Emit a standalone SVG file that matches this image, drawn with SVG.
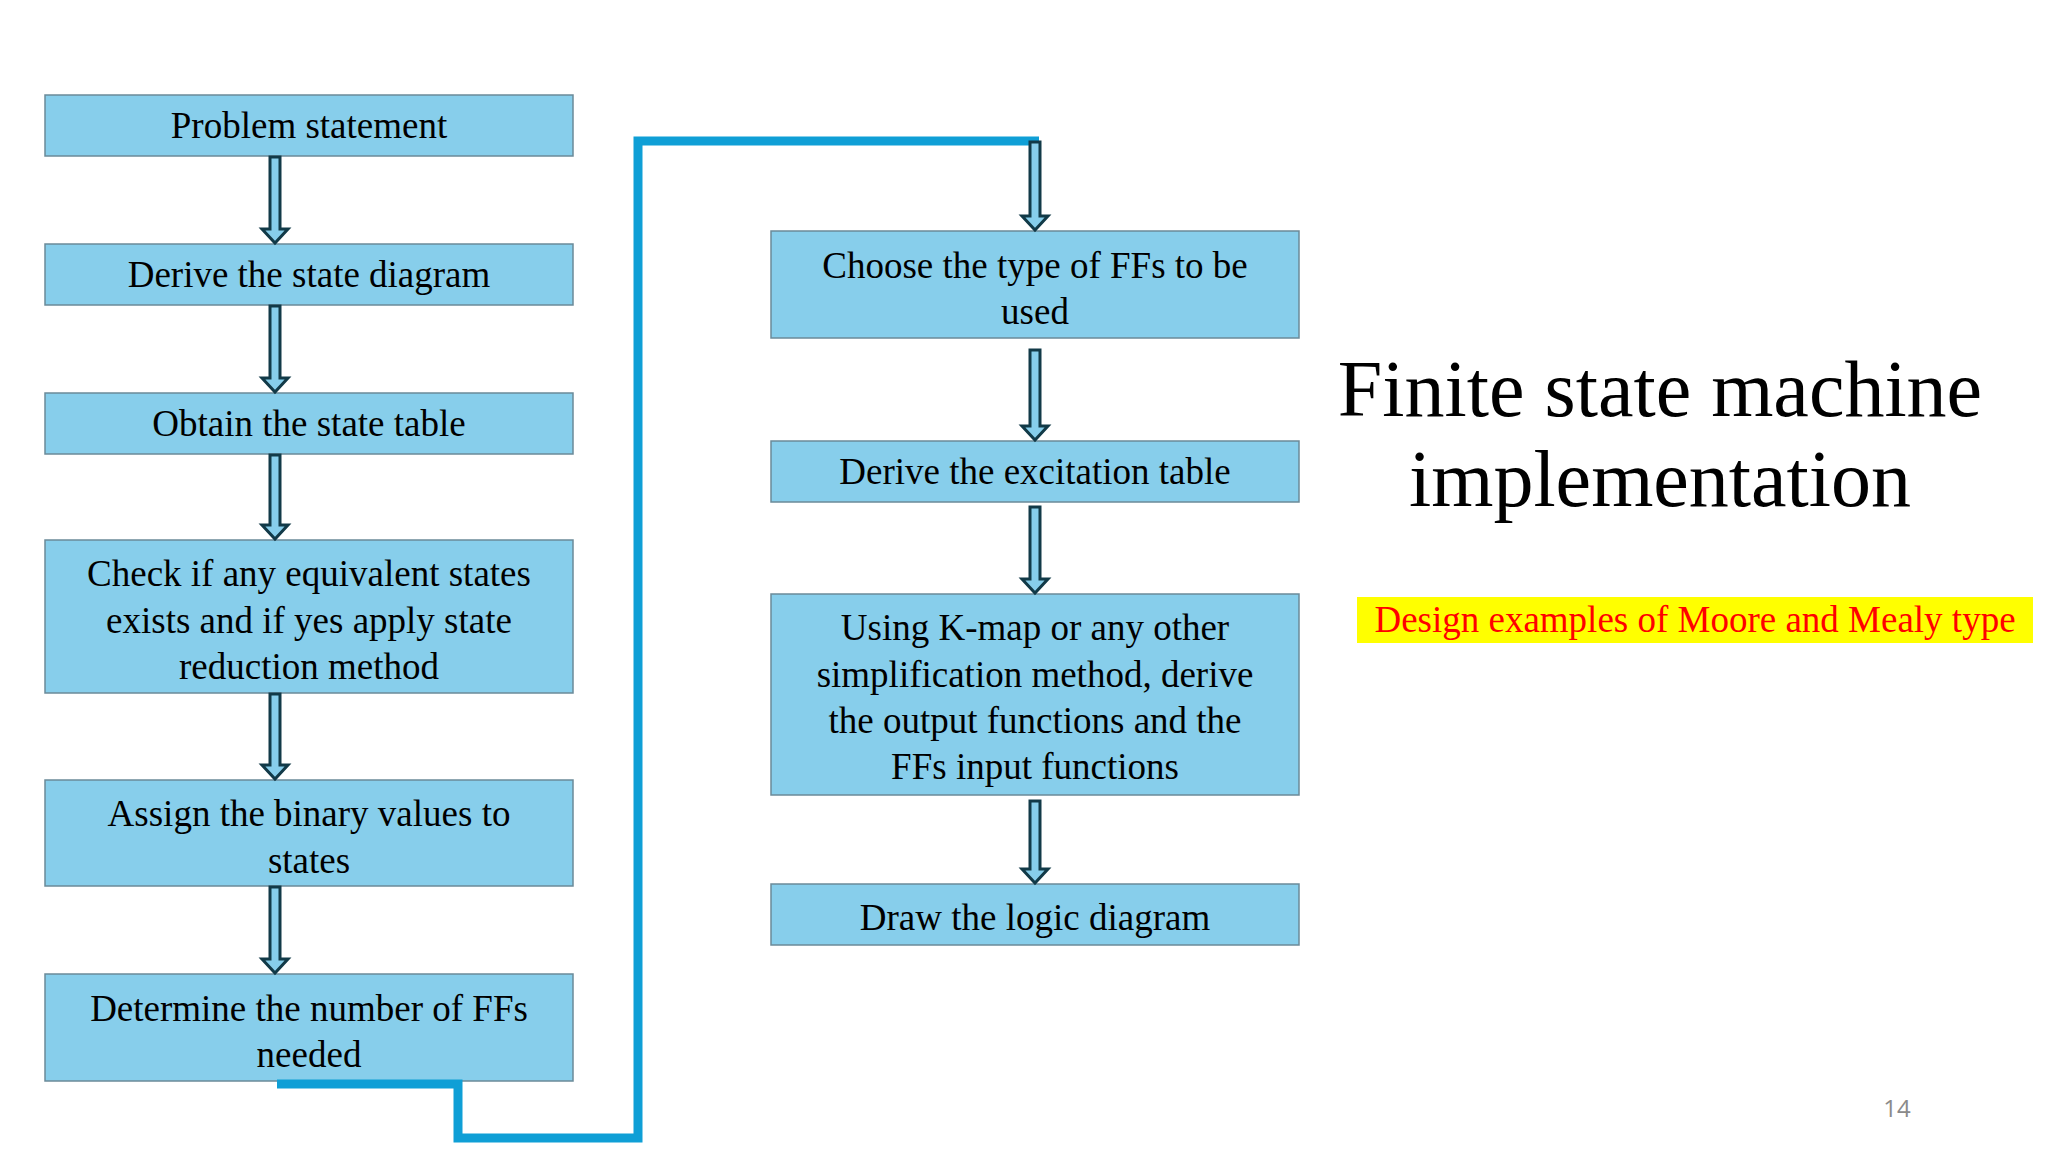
<svg xmlns="http://www.w3.org/2000/svg" width="2048" height="1152" viewBox="0 0 2048 1152">
<defs>
<style>
.b rect{fill:#87ceeb;stroke:#6b8a99;stroke-width:1.5}
.b text{font-family:"Liberation Serif",serif;font-size:37px;fill:#000;text-anchor:middle}
.ar{fill:#87ceeb;stroke:#123a48;stroke-width:3;stroke-linejoin:miter}
</style>
</defs>
<rect width="2048" height="1152" fill="#fff"/>
<g id="n1" class="b"><rect x="45" y="95" width="528" height="61"/><text x="309" y="138">Problem statement</text></g>
<g id="n2" class="b"><rect x="45" y="244" width="528" height="61"/><text x="309" y="287">Derive the state diagram</text></g>
<g id="n3" class="b"><rect x="45" y="393" width="528" height="61"/><text x="309" y="436">Obtain the state table</text></g>
<g id="n4" class="b"><rect x="45" y="540" width="528" height="153"/><text x="309" y="586">Check if any equivalent states</text><text x="309" y="633">exists and if yes apply state</text><text x="309" y="679">reduction method</text></g>
<g id="n5" class="b"><rect x="45" y="780" width="528" height="106"/><text x="309" y="826">Assign the binary values to</text><text x="309" y="873">states</text></g>
<g id="n6" class="b"><rect x="45" y="974" width="528" height="107"/><text x="309" y="1021">Determine the number of FFs</text><text x="309" y="1067">needed</text></g>
<g id="r1" class="b"><rect x="771" y="231" width="528" height="107"/><text x="1035" y="278">Choose the type of FFs to be</text><text x="1035" y="324">used</text></g>
<g id="r2" class="b"><rect x="771" y="441" width="528" height="61"/><text x="1035" y="484">Derive the excitation table</text></g>
<g id="r3" class="b"><rect x="771" y="594" width="528" height="201"/><text x="1035" y="640">Using K-map or any other</text><text x="1035" y="687">simplification method, derive</text><text x="1035" y="733">the output functions and the</text><text x="1035" y="779">FFs input functions</text></g>
<g id="r4" class="b"><rect x="771" y="884" width="528" height="61"/><text x="1035" y="930">Draw the logic diagram</text></g>
<g id="connectors">
<path d="M277 1084 H458 V1138 H638 V141 H1039" fill="none" stroke="#0f9fd6" stroke-width="9"/>
<path class="ar" d="M270 157 H280 V229 H288 L275 243 L262 229 H270 Z"/>
<path class="ar" d="M270 306 H280 V378 H288 L275 392 L262 378 H270 Z"/>
<path class="ar" d="M270 455 H280 V525 H288 L275 539 L262 525 H270 Z"/>
<path class="ar" d="M270 694 H280 V765 H288 L275 779 L262 765 H270 Z"/>
<path class="ar" d="M270 887 H280 V959 H288 L275 973 L262 959 H270 Z"/>
<path class="ar" d="M1030 142 H1040 V216 H1048 L1035 230 L1022 216 H1030 Z"/>
<path class="ar" d="M1030 350 H1040 V426 H1048 L1035 440 L1022 426 H1030 Z"/>
<path class="ar" d="M1030 507 H1040 V579 H1048 L1035 593 L1022 579 H1030 Z"/>
<path class="ar" d="M1030 801 H1040 V869 H1048 L1035 883 L1022 869 H1030 Z"/>
</g>
<text x="1660" y="416" font-family="Liberation Serif,serif" font-size="80" text-anchor="middle">Finite state machine</text>
<text x="1660" y="506" font-family="Liberation Serif,serif" font-size="80" text-anchor="middle">implementation</text>
<rect x="1357" y="597" width="676" height="46" fill="#ffff00"/>
<text x="1695" y="632" font-family="Liberation Serif,serif" font-size="37" fill="#ff0000" text-anchor="middle">Design examples of Moore and Mealy type</text>
<text x="1897" y="1117" font-family="Open Sans,sans-serif" font-size="24" fill="#8a8a8a" text-anchor="middle">14</text>
</svg>
